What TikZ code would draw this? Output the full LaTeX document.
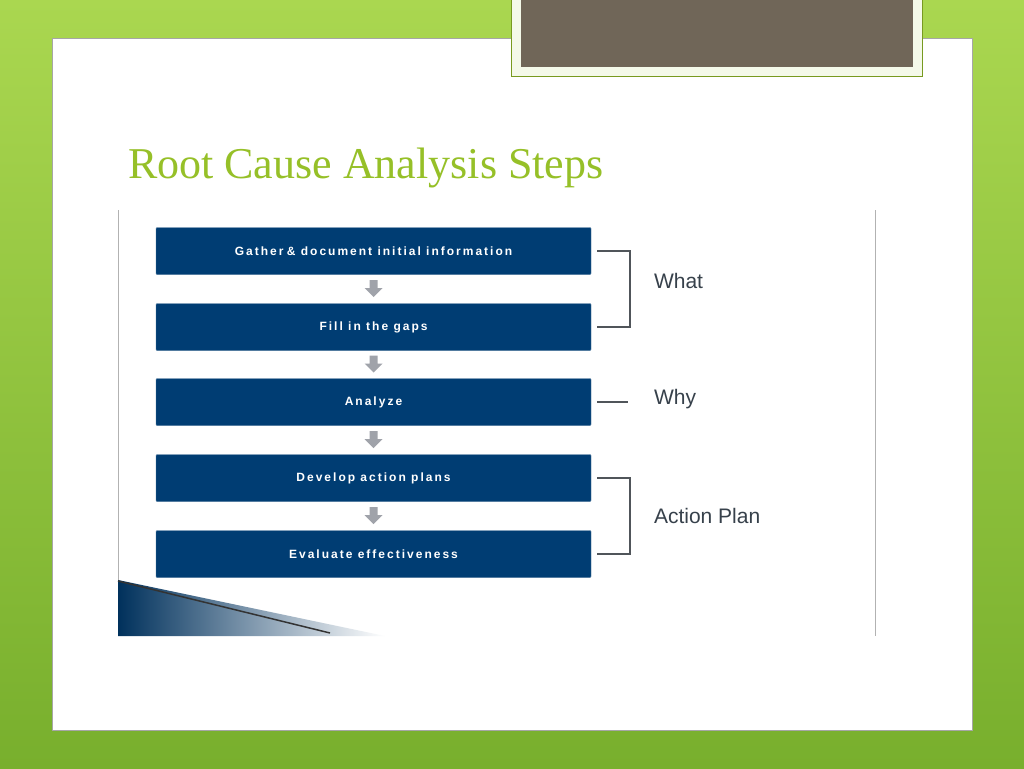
\documentclass[tikz,border=0pt]{standalone}
\usepackage{fontspec}
\setmainfont{Liberation Serif}
\setsansfont{Liberation Sans}
\usetikzlibrary{calc}
\definecolor{cgreen}{RGB}{150,192,40}
\definecolor{cbgl}{RGB}{170,215,80}
\definecolor{cbgd}{RGB}{120,175,45}
\definecolor{ctab}{RGB}{112,102,88}
\definecolor{cbox}{RGB}{0,61,115}
\definecolor{carrow}{RGB}{160,163,170}
\definecolor{clabel}{RGB}{55,65,75}
\definecolor{cline}{RGB}{80,85,90}
\tikzset{
  stepbox/.style={fill=cbox, draw=cbox!70!white, minimum width=435pt, minimum height=47pt,
    text=white, font=\sffamily\bfseries\fontsize{12}{14}\selectfont, rounded corners=1pt},
  grouplabel/.style={anchor=west, text=clabel, font=\sffamily\fontsize{21}{24}\selectfont},
  brace/.style={draw=cline, line width=2.2pt},
  downarrow/.style={fill=carrow}
}
\begin{document}
\begin{tikzpicture}[x=1pt, y=-1pt, inner sep=0pt, outer sep=0pt]
\useasboundingbox (0,0) rectangle (1024,768);
% background and slide
\shade[top color=cbgl, bottom color=cbgd] (0,0) rectangle (1024,768);
\path[fill=white, draw=gray!70] (52,38) rectangle (972,730);
\path[fill=white!90!cgreen, draw=cgreen!80!black] (511,-2) rectangle (922,76);
\path[fill=ctab] (521,-2) rectangle (913,67);
\node[anchor=base west, text=cgreen, font=\fontsize{44}{50}\selectfont] (title) at (128,178) {Root Cause Analysis Steps};
% picture frame
\draw[gray!60, line width=1pt] (118,210) -- (118,636);
\draw[gray!60, line width=1pt] (875,210) -- (875,636);
\shade[left color=cbox!80!black, right color=white] (118,580) -- (385,636) -- (118,636) -- cycle;
\draw[black!80, line width=1.5pt] (118,581) -- (330,633);
% steps
\node[stepbox] (gather) at (373.5,251) {G\,a\,t\,h\,e\,r \&\, d\,o\,c\,u\,m\,e\,n\,t\, i\,n\,i\,t\,i\,a\,l\, i\,n\,f\,o\,r\,m\,a\,t\,i\,o\,n};
\node[stepbox] (fill) at (373.5,327) {F\,i\,l\,l\, i\,n\, t\,h\,e\, g\,a\,p\,s};
\node[stepbox] (analyze) at (373.5,402) {A\,n\,a\,l\,y\,z\,e};
\node[stepbox] (develop) at (373.5,478) {D\,e\,v\,e\,l\,o\,p\, a\,c\,t\,i\,o\,n\, p\,l\,a\,n\,s};
\node[stepbox] (evaluate) at (373.5,554) {E\,v\,a\,l\,u\,a\,t\,e\, e\,f\,f\,e\,c\,t\,i\,v\,e\,n\,e\,s\,s};
% arrows between steps
\foreach \a/\b in {gather/fill, fill/analyze, analyze/develop, develop/evaluate}{
  \path[downarrow] ($(\a.south)!0.5!(\b.north)$) ++(-4,-9) -- ++(8,0) -- ++(0,8) -- ++(5,0)
    -- ++(-9,9) -- ++(-9,-9) -- ++(5,0) -- cycle;
}
% brackets
\draw[brace] ([xshift=6pt]gather.east) -- ++(33,0) |- ([xshift=6pt]fill.east);
\draw[brace] ([xshift=6pt]analyze.east) -- ++(31,0);
\draw[brace] ([xshift=6pt]develop.east) -- ++(33,0) |- ([xshift=6pt]evaluate.east);
\node[grouplabel] (what) at (654,281) {What};
\node[grouplabel] (why) at (654,399) {Why};
\node[grouplabel] (actionplan) at (654,516) {Action Plan};
\end{tikzpicture}
\end{document}
